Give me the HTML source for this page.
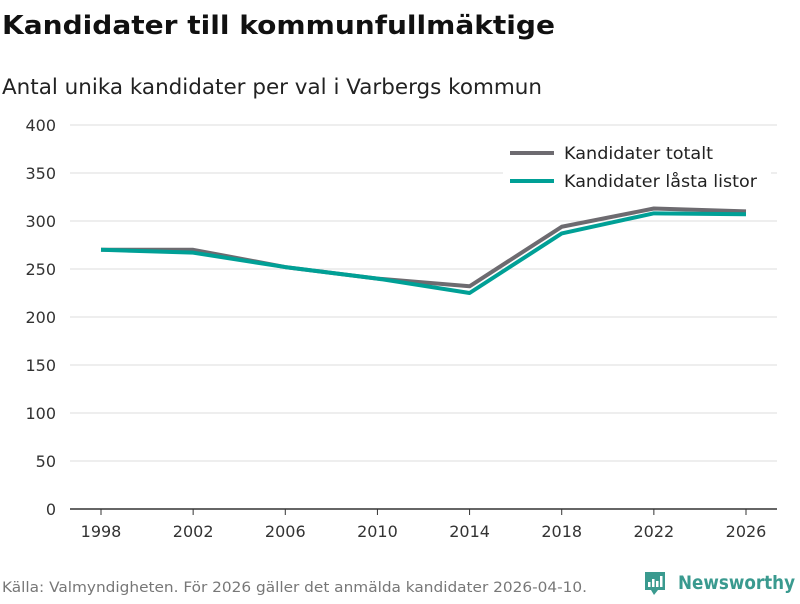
<!DOCTYPE html>
<html><head><meta charset="utf-8"><style>
body{margin:0;background:#fff;font-family:"DejaVu Sans","Liberation Sans",sans-serif;}
svg text{font-family:"DejaVu Sans","Liberation Sans",sans-serif;}
</style></head><body>
<svg id="c" width="800" height="600" xmlns="http://www.w3.org/2000/svg">
<text x="2" y="34" font-size="26" font-weight="bold" fill="#111" textLength="553" lengthAdjust="spacingAndGlyphs">Kandidater till kommunfullmäktige</text>
<text x="2" y="94" font-size="21" fill="#222" textLength="540" lengthAdjust="spacingAndGlyphs">Antal unika kandidater per val i Varbergs kommun</text>
<g id="grid"></g><g id="lines"></g>
<g>
<rect x="503" y="140" width="268" height="56" fill="#fff"/>
<line x1="510" y1="153" x2="554" y2="153" stroke="#6d6b70" stroke-width="4"/>
<text x="564" y="159" font-size="16.5" fill="#222" textLength="149" lengthAdjust="spacingAndGlyphs">Kandidater totalt</text>
<line x1="510" y1="181" x2="554" y2="181" stroke="#00a096" stroke-width="4"/>
<text x="564" y="187" font-size="16.5" fill="#222" textLength="193" lengthAdjust="spacingAndGlyphs">Kandidater låsta listor</text>
</g>
<text x="2" y="592" font-size="14.5" fill="#777" textLength="585" lengthAdjust="spacingAndGlyphs">Källa: Valmyndigheten. För 2026 gäller det anmälda kandidater 2026-04-10.</text>
<g>
<path d="M645 572h20v18h-7l-4 5-3-5h-6z" fill="#3a9a8f"/>
<rect x="648" y="582" width="2.5" height="5" fill="#fff"/><rect x="652" y="579" width="2.5" height="8" fill="#fff"/><rect x="656" y="581" width="2.5" height="6" fill="#fff"/><rect x="660" y="576" width="2.5" height="11" fill="#fff"/>
<text x="678" y="589" font-size="19" font-weight="bold" fill="#3a9a8f" textLength="117" lengthAdjust="spacingAndGlyphs">Newsworthy</text>
</g>
</svg>
<script>
const years=[1998,2002,2006,2010,2014,2018,2022,2026];
const totalt=[270,270,252,240,232,294,313,310];
const lasta=[270,267,252,240,225,287,308,307];
const yTicks=[0,50,100,150,200,250,300,350,400];
const NS="http://www.w3.org/2000/svg";
const x=v=>101+(v-1998)*(746-101)/28;
const y=v=>509-v*0.96;
const grid=document.getElementById('grid');
function mk(t,a,p){const e=document.createElementNS(NS,t);for(const k in a)e.setAttribute(k,a[k]);p.appendChild(e);return e;}
yTicks.forEach(t=>{
 if(t>0){const l=mk('line',{x1:70,x2:777,y1:y(t),y2:y(t),stroke:'#ddd','stroke-width':1},grid);
 
 }
 const tx=mk('text',{x:56,y:y(t)+6,'font-size':16,fill:'#333','text-anchor':'end'},grid);tx.textContent=t;
 
 
});
const ax=mk('line',{x1:70,x2:777,y1:509,y2:509,stroke:'#333','stroke-width':1.5},grid);


years.forEach(v=>{
 mk('line',{x1:x(v),x2:x(v),y1:509,y2:515,stroke:'#333'},grid);
 const tx=mk('text',{x:x(v),y:537,'font-size':16,fill:'#333','text-anchor':'middle'},grid);tx.textContent=v;
 
 
});
const lines=document.getElementById('lines');
[[totalt,'#6d6b70','line-totalt'],[lasta,'#00a096','line-lasta']].forEach(([d,c,n])=>{
 const p=mk('polyline',{points:d.map((v,i)=>x(years[i])+','+y(v)).join(' '),fill:'none',stroke:c,'stroke-width':4,'stroke-linejoin':'round'},lines);
 
 
});
</script>
</body></html>
